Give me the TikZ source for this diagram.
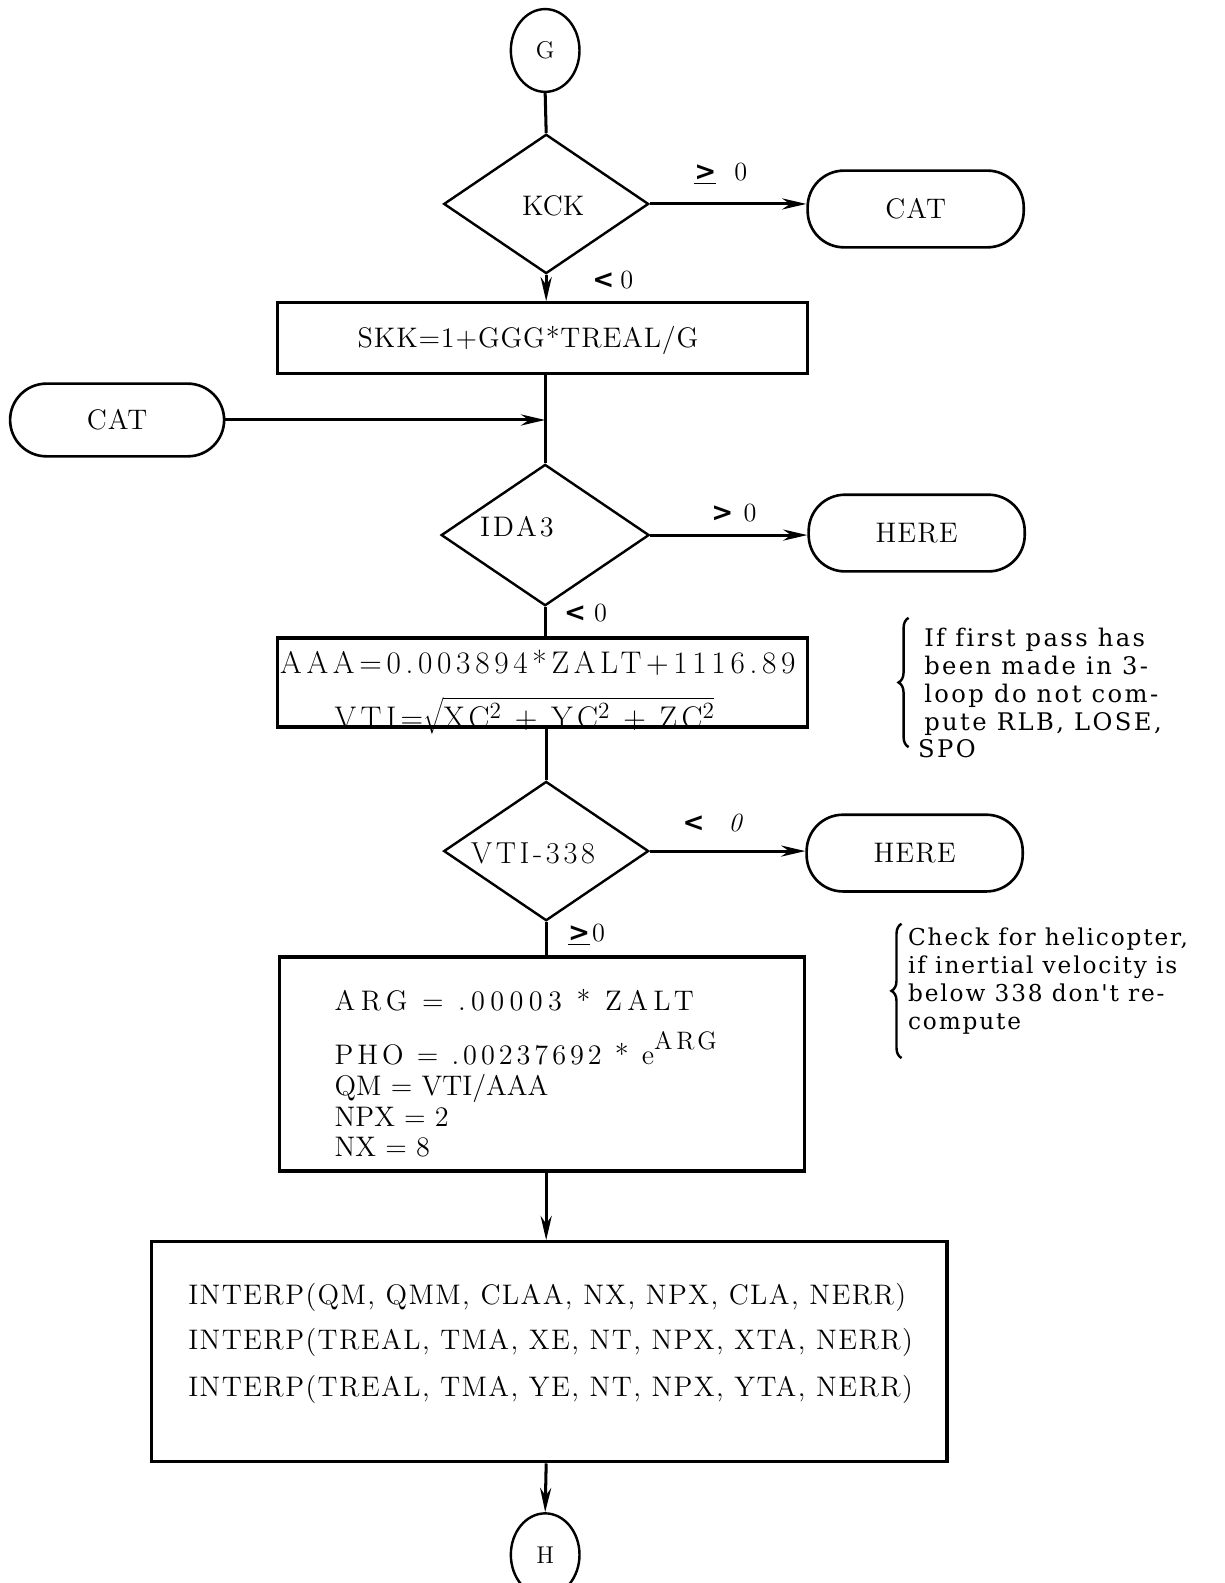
\documentclass[tikz,border=0pt]{standalone}
\usepackage{fontspec}
\setmainfont{Latin Modern Roman}
\newfontfamily\notefontA{DejaVu Serif}[LetterSpace=10,Ligatures=NoCommon]
\newfontfamily\notefontB{DejaVu Serif}[LetterSpace=8,Ligatures=NoCommon]
\newfontfamily\chev{DejaVu Sans}
\usetikzlibrary{shapes.geometric,arrows.meta,decorations.pathreplacing}
\newcommand\boxfont{\fontsize{14}{16}\selectfont}
\newcommand\ls[1]{\addfontfeatures{LetterSpace=#1}}
\newcommand\lblfont{\fontsize{13}{15}\selectfont}
\newcommand\lt{{\chev\bfseries\fontsize{13}{15}\selectfont <}}
\newcommand\gt{{\chev\bfseries\fontsize{13}{15}\selectfont >}}
\newcommand\sq{\raisebox{0.75ex}{\fontsize{11.5}{12}\selectfont 2}}
\begin{document}
\begin{tikzpicture}[x=0.5pt,y=-0.5pt,
  line width=1.5pt,
  >={Stealth[length=12pt,width=5.5pt]},
  txt/.style={font=\boxfont, inner sep=0pt},
  ltxt/.style={txt, anchor=base west},
  conn/.style={draw, ellipse, minimum width=34pt, minimum height=41pt, line width=1.2pt, inner sep=0pt, font=\fontsize{12}{14}\selectfont},
  dec/.style={draw, diamond, minimum width=101.5pt, minimum height=69pt, inner sep=0pt, line width=1.2pt},
  term/.style={draw, rectangle, rounded corners=18pt, minimum width=107pt, minimum height=38pt, line width=1.3pt, font=\boxfont\ls{4}},
  proc/.style={draw, rectangle, line width=1.6pt, inner sep=0pt},
  lbl/.style={font=\lblfont, inner sep=0pt},
  note/.style={align=left, anchor=north west, inner sep=0pt},
  brc/.style={decorate, decoration={brace, amplitude=5pt}, line width=1.2pt}
]
\useasboundingbox (0,0) rectangle (1213,1568);

% shapes and their texts
\node[conn] (G) at (540,50) {G};
\node[dec] (KCK) at (541,202) {};
\node[txt] (kcklbl) at (548,204) {KCK};
\node[term] (CAT1) at (907,207) {CAT};
\node[proc, minimum width=262.5pt, minimum height=35pt] (SKK) at (537.5,335) {};
\node[txt, font=\boxfont\ls{3}] (skklbl) at (523,337) {SKK=1+GGG*TREAL/G};
\node[term, minimum width=106pt, minimum height=36pt] (CAT2) at (116,416) {CAT};
\node[dec, minimum width=103pt, minimum height=70pt] (IDA) at (540,530) {};
\node[txt, font=\boxfont\ls{10}] (idalbl) at (512,522) {IDA3};
\node[term] (HERE1) at (908,528) {HERE};
\node[proc, minimum width=262.5pt, minimum height=44pt] (AAA) at (537.5,676) {};
\node[txt, anchor=base west, font=\fontsize{15.5}{17}\selectfont\ls{15}] (aaa1) at (276,667) {AAA=0.003894*ZALT+1116.89};
\node[txt, anchor=base west, font=\fontsize{15.5}{17}\selectfont\ls{14}] (aaa2) at (330,722) {VTI=$\sqrt{\mbox{XC\sq{} + YC\sq{} + ZC\sq}}$};
\node[dec] (VTI) at (541,843) {};
\node[txt, font=\fontsize{15}{17}\selectfont\ls{12}] (vtilbl) at (528,845) {VTI-338};
\node[term] (HERE2) at (906,845) {HERE};
\node[proc, minimum width=260pt, minimum height=106pt] (ARG) at (537,1054) {};
\node[ltxt, font=\boxfont\ls{19}] (arg1) at (330,1001) {ARG = .00003 * ZALT};
\node[ltxt, font=\boxfont\ls{14}] (arg2) at (330,1054) {PHO = .00237692 * e\raisebox{1.2ex}{\fontsize{12.5}{13}\selectfont ARG}};
\node[ltxt] (arg3) at (330,1085) {QM = VTI/AAA};
\node[ltxt] (arg4) at (330,1116) {NPX = 2};
\node[ltxt] (arg5) at (330,1146) {NX = 8};
\node[proc, minimum width=394pt, minimum height=109pt] (INT) at (544,1339) {};
\node[ltxt, font=\boxfont\ls{5}] (int1) at (185,1292) {INTERP(QM, QMM, CLAA, NX, NPX, CLA, NERR)};
\node[ltxt, font=\boxfont\ls{5}] (int2) at (185,1337) {INTERP(TREAL, TMA, XE, NT, NPX, XTA, NERR)};
\node[ltxt, font=\boxfont\ls{5}] (int3) at (185,1383) {INTERP(TREAL, TMA, YE, NT, NPX, YTA, NERR)};
\node[conn] (H) at (540,1540) {H};

% branch labels
\node[lbl] (l1) at (714,172) {\underline{\gt}\hspace{9pt}0};
\node[lbl] (l2) at (607,277) {\lt\hspace{3pt}0};
\node[lbl] (l3) at (727,508) {\gt\hspace{5pt}0};
\node[lbl] (l4) at (580,607) {\lt\hspace{4pt}0};
\node[lbl] (l5) at (706,815) {\lt\hspace{12pt}\textit{0}};
\node[lbl] (l6) at (581,926) {\underline{\gt}\hspace{1pt}0};

% notes
\coordinate (b1t) at (900,612);
\coordinate (b1b) at (900,740);
\draw[brc] (b1b) -- (b1t);
\node[note, font=\notefontA\fontsize{12}{13.75}\selectfont] (n1) at (914,621) {If first pass has\\been made in 3-\\loop do not com-\\pute RLB, LOSE,\\\hspace*{-3pt}SPO};
\coordinate (b2t) at (893,915);
\coordinate (b2b) at (893,1048);
\draw[brc] (b2b) -- (b2t);
\node[note, font=\notefontB\fontsize{11.5}{13.75}\selectfont] (n2) at (898,918) {Check for helicopter,\\if inertial velocity is\\below 338 don't re-\\compute};

% flow lines
\draw (G.south) -- (KCK.north);
\draw[->] (KCK.east) -- (KCK.east -| CAT1.west);
\draw[->] (KCK.south) -- (KCK.south |- SKK.north);
\draw (IDA.north |- SKK.south) -- (IDA.north);
\coordinate (j1) at (IDA.north |- CAT2.east);
\draw[->] (CAT2.east) -- (j1);
\draw[->] (IDA.east) -- (HERE1.west |- IDA.east);
\draw (IDA.south) -- (IDA.south |- AAA.north);
\draw (VTI.north |- AAA.south) -- (VTI.north);
\draw[->] (VTI.east) -- (HERE2.west |- VTI.east);
\draw (VTI.south) -- (VTI.south |- ARG.north);
\draw[->] (VTI.south |- ARG.south) -- (VTI.south |- INT.north);
\draw[->] (VTI.south |- INT.south) -- (H.north);
\end{tikzpicture}
\end{document}
